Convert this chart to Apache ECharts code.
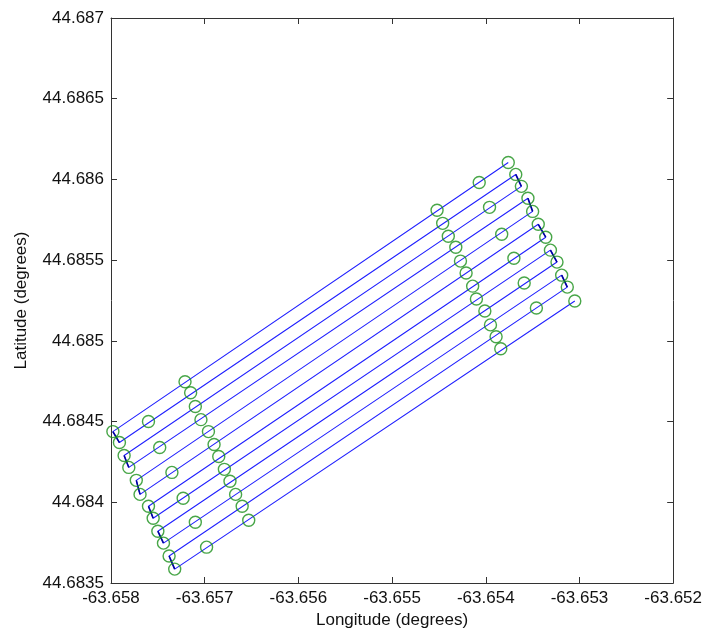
<!DOCTYPE html>
<html>
<head>
<meta charset="utf-8">
<script src="https://cdn.jsdelivr.net/npm/echarts@6/dist/echarts.min.js"></script>
<style>html,body{margin:0;padding:0;background:#fff}#chart{width:705px;height:634px}</style>
</head>
<body>
<div id="chart"></div>
<script>
// Tick values
const lonTicks = [-63.658, -63.657, -63.656, -63.655, -63.654, -63.653, -63.652];
const latTicks = [44.6835, 44.684, 44.6845, 44.685, 44.6855, 44.686, 44.6865, 44.687];

// Waypoints [lon, lat], one per survey line (line 1 = top, line 12 = bottom)
const leftEnds = [
  [-63.65798, 44.684438], [-63.65791, 44.684370], [-63.65786, 44.684290], [-63.65781, 44.684216],
  [-63.65773, 44.684136], [-63.65769, 44.684049], [-63.65760, 44.683975], [-63.65755, 44.683901],
  [-63.65750, 44.683821], [-63.65744, 44.683747], [-63.65738, 44.683667], [-63.65732, 44.683586]
];
const rightEnds = [
  [-63.65376, 44.686105], [-63.65368, 44.686031], [-63.65362, 44.685957], [-63.65355, 44.685883],
  [-63.65350, 44.685802], [-63.65344, 44.685722], [-63.65336, 44.685642], [-63.65331, 44.685562],
  [-63.65324, 44.685488], [-63.65319, 44.685407], [-63.65313, 44.685333], [-63.65305, 44.685247]
];
const midLeft = [
  [-63.65721, 44.684747], [-63.65715, 44.684679], [-63.65710, 44.684593], [-63.65704, 44.684512],
  [-63.65696, 44.684438], [-63.65690, 44.684358], [-63.65685, 44.684284], [-63.65679, 44.684204],
  [-63.65673, 44.684130], [-63.65667, 44.684049], [-63.65660, 44.683975], [-63.65653, 44.683889]
];
const midRight = [
  [-63.65452, 44.685809], [-63.65446, 44.685728], [-63.65440, 44.685648], [-63.65432, 44.685580],
  [-63.65427, 44.685494], [-63.65421, 44.685420], [-63.65414, 44.685339], [-63.65410, 44.685259],
  [-63.65401, 44.685185], [-63.65395, 44.685099], [-63.65389, 44.685025], [-63.65384, 44.684951]
];
// extra points on even lines (left) and odd lines (right)
const sparseLeft = [
  [-63.65760, 44.684500], [-63.65748, 44.684339], [-63.65735, 44.684185],
  [-63.65723, 44.684025], [-63.65710, 44.683876], [-63.65698, 44.683722]
];
const sparseRight = [
  [-63.65407, 44.685981], [-63.65396, 44.685827], [-63.65383, 44.685660],
  [-63.65370, 44.685512], [-63.65359, 44.685358], [-63.65346, 44.685204]
];

// Build lawnmower path: R1->L1, L1->L2, L2->R2, R2->R3, ...
const path = [];
const connectors = [];
for (let i = 0; i < leftEnds.length; i++) {
  if (i % 2 === 0) { path.push(rightEnds[i], leftEnds[i]); }
  else { path.push(leftEnds[i], rightEnds[i]); }
}
for (let i = 0; i < leftEnds.length - 1; i++) {
  const a = (i % 2 === 0) ? leftEnds : rightEnds;
  connectors.push([a[i], a[i + 1]]);
}
const waypoints = [].concat(leftEnds, rightEnds, midLeft, midRight, sparseLeft, sparseRight);

const FONT = 'Liberation Sans, Arial, sans-serif';
const trim = v => parseFloat(v.toFixed(4)).toString();

const chart = echarts.init(document.getElementById('chart'), null, {renderer: 'canvas'});
const axisLine = {show: true, lineStyle: {color: '#333', width: 1}};
const tick = {show: true, inside: true, length: 6, lineStyle: {color: '#333', width: 1}};

const series = [
  {type: 'line', data: path, showSymbol: false, symbol: 'none', lineStyle: {color: '#2020ff', width: 1.1}, z: 2, silent: true}
];
connectors.forEach(seg => series.push({
  type: 'line', data: seg, showSymbol: false, symbol: 'none', lineStyle: {color: '#0000a0', width: 1.6}, z: 3, silent: true
}));
series.push({
  type: 'scatter', data: waypoints, symbol: 'circle', symbolSize: 12,
  itemStyle: {color: 'rgba(0,0,0,0)', borderColor: '#1a901a', borderWidth: 1.4}, z: 4, silent: true
});

chart.setOption({
  animation: false,
  backgroundColor: '#fff',
  grid: {left: 111, right: 30, top: 18, bottom: 49, containLabel: false},
  xAxis: [
    {type: 'value', min: lonTicks[0], max: lonTicks[lonTicks.length - 1], interval: 0.001, position: 'bottom',
     axisLine, axisTick: tick, splitLine: {show: false},
     axisLabel: {color: '#111', fontFamily: FONT, fontSize: 17, margin: 7, formatter: v => v.toFixed(3)},
     name: 'Longitude (degrees)', nameLocation: 'middle', nameGap: 29,
     nameTextStyle: {color: '#111', fontFamily: FONT, fontSize: 17}},
    {type: 'value', min: lonTicks[0], max: lonTicks[lonTicks.length - 1], interval: 0.001, position: 'top',
     axisLine, axisTick: tick, axisLabel: {show: false}, splitLine: {show: false}}
  ],
  yAxis: [
    {type: 'value', min: latTicks[0], max: latTicks[latTicks.length - 1], interval: 0.0005, position: 'left',
     axisLine, axisTick: tick, splitLine: {show: false},
     axisLabel: {color: '#111', fontFamily: FONT, fontSize: 17, margin: 7, formatter: v => trim(v)},
     name: 'Latitude (degrees)', nameLocation: 'middle', nameGap: 81,
     nameTextStyle: {color: '#111', fontFamily: FONT, fontSize: 17}},
    {type: 'value', min: latTicks[0], max: latTicks[latTicks.length - 1], interval: 0.0005, position: 'right',
     axisLine, axisTick: tick, axisLabel: {show: false}, splitLine: {show: false}}
  ],
  series
});
</script>
</body>
</html>
